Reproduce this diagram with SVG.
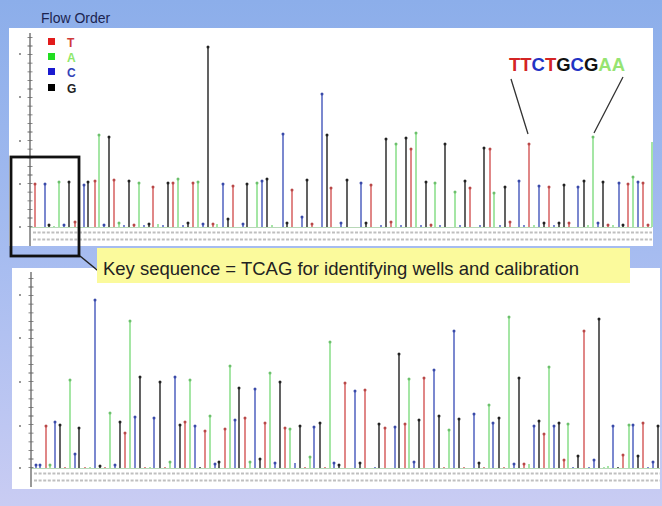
<svg xmlns="http://www.w3.org/2000/svg" width="662" height="506" viewBox="0 0 662 506">
<defs>
<linearGradient id="bg" x1="0" y1="0" x2="0" y2="1">
<stop offset="0" stop-color="#8caeea"/>
<stop offset="0.5" stop-color="#a6bcf0"/>
<stop offset="1" stop-color="#c9ccf3"/>
</linearGradient>
<style>
.bt{stroke:#d96a6a}.ba{stroke:#8fe08f}.bc{stroke:#5b6bc4}.bg{stroke:#3c3c3c}
.bar{fill:none;stroke-width:1.6}
.cap{fill:none;stroke-width:3;stroke-linecap:round}
.ct{stroke:#b84848}.ca{stroke:#6cc06c}.cc{stroke:#3a4aa8}.cg{stroke:#222}
.axis{stroke:#555;stroke-width:1.2;fill:none}
.ticks{stroke:#666;stroke-width:5;stroke-dasharray:0.8 7.8;fill:none}
.lbl{stroke:#8a8a8a;stroke-width:2;stroke-dasharray:3 1.6;opacity:0.55;fill:none}
.base{stroke:#b8d8b8;stroke-width:1;fill:none}
.tl{fill:#777}
.leg{font-family:"Liberation Sans",Arial,sans-serif;font-weight:bold;font-size:12px}
</style>
</defs>
<rect width="662" height="506" fill="url(#bg)"/>
<text x="41" y="23" font-family="Liberation Sans, Arial, sans-serif" font-size="14" fill="#1c2450">Flow Order</text>

<!-- top panel -->
<rect x="9" y="28" width="644" height="218" fill="#ffffff"/>
<!-- bottom panel -->
<rect x="12" y="268" width="648" height="221" fill="#ffffff"/>

<g id="top-chart">
<path class="base" d="M30 227.5H652"/>
<path class="axis" d="M30 33V246"/>
<path class="ticks" d="M30 227V33"/>
<g class="tl"><circle cx="20" cy="54" r="1"/><circle cx="20" cy="97" r="1"/><circle cx="20" cy="141" r="1"/><circle cx="20" cy="184" r="1"/><circle cx="20" cy="227" r="1"/></g>
<path class="lbl" d="M33 232.5H652M33 239.5H652"/>
<path class="bar bt" d="M35 227V184M75 227V222M95 227V181M114 227V180M134 227V225M153 227V187M173 227V183M193 227V183M213 227V224M233 227V186M292 227V190M312 227V224M331 227V188M371 227V185M391 227V222M411 227V149M431 227V225M470 227V188M490 227V149M510 227V222M529 227V144M549 227V187M569 227V223M608 227V225M628 227V184M643 227V183M648 227V225"/>
<path class="cap ct" d="M35 184v0M75 222v0M95 181v0M114 180v0M134 225v0M153 187v0M173 183v0M193 183v0M213 224v0M233 186v0M292 190v0M312 224v0M331 188v0M371 185v0M391 222v0M411 149v0M431 225v0M470 188v0M490 149v0M510 222v0M529 144v0M549 187v0M569 223v0M608 225v0M628 184v0M643 183v0M648 225v0"/>
<path class="bar ba" d="M54 227V226M59 227V182M99 227V135M119 227V223M139 227V183M158 227V224M178 227V179M198 227V182M217 227V224M257 227V183M272 227V225M396 227V144M416 227V133M435 227V183M455 227V192M494 227V193M534 227V225M588 227V225M593 227V137M613 227V225M633 227V177M652 227V142"/>
<path class="cap ca" d="M59 182v0M99 135v0M119 223v0M139 183v0M178 179v0M198 182v0M257 183v0M396 144v0M416 133v0M435 183v0M455 192v0M494 193v0M593 137v0M633 177v0"/>
<path class="bar bc" d="M45 227V184M64 227V225M84 227V185M104 227V225M124 227V225M144 227V225M163 227V225M183 227V225M203 227V224M223 227V184M243 227V224M262 227V181M283 227V134M302 227V217M322 227V94M341 227V223M361 227V183M381 227V225M401 227V225M421 227V225M440 227V225M460 227V225M480 227V225M500 227V225M519 227V181M524 227V225M539 227V186M554 227V225M578 227V187M598 227V223M619 227V183M638 227V182"/>
<path class="cap cc" d="M45 184v0M64 225v0M84 185v0M104 225v0M203 224v0M223 184v0M243 224v0M262 181v0M283 134v0M302 217v0M322 94v0M341 223v0M361 183v0M519 181v0M539 186v0M578 187v0M598 223v0M619 183v0M638 182v0"/>
<path class="bar bg" d="M49 227V225M69 227V182M88 227V182M109 227V137M129 227V181M149 227V224M168 227V183M188 227V223M208 227V47M228 227V219M247 227V184M267 227V179M287 227V223M307 227V180M327 227V135M347 227V180M366 227V223M386 227V139M406 227V138M426 227V182M445 227V144M465 227V181M484 227V148M505 227V187M544 227V223M559 227V223M564 227V185M584 227V181M603 227V182M623 227V225"/>
<path class="cap cg" d="M49 225v0M69 182v0M88 182v0M109 137v0M129 181v0M149 224v0M168 183v0M188 223v0M208 47v0M228 219v0M247 184v0M267 179v0M287 223v0M307 180v0M327 135v0M347 180v0M366 223v0M386 139v0M406 138v0M426 182v0M445 144v0M465 181v0M484 148v0M505 187v0M544 223v0M559 223v0M564 185v0M584 181v0M603 182v0M623 225v0"/>
</g>

<g id="legend">
<rect x="48" y="38" width="7" height="7" fill="#e21b1b"/>
<rect x="48" y="53" width="7" height="7" fill="#22dd22"/>
<rect x="48" y="68" width="7" height="7" fill="#1a1ad0"/>
<rect x="48" y="84" width="7" height="7" fill="#000"/>
<text class="leg" x="67" y="47" fill="#d03a3a">T</text>
<text class="leg" x="67" y="62" fill="#8ee86a">A</text>
<text class="leg" x="67" y="77" fill="#3443b8">C</text>
<text class="leg" x="67" y="93" fill="#222">G</text>
</g>

<g id="bottom-chart">
<path class="base" d="M31 468.5H660"/>
<path class="axis" d="M31 272V487"/>
<path class="ticks" d="M31 468V274"/>
<g class="tl"><circle cx="20" cy="295" r="1"/><circle cx="20" cy="338" r="1"/><circle cx="20" cy="382" r="1"/><circle cx="20" cy="426" r="1"/><circle cx="20" cy="468" r="1"/></g>
<path class="lbl" d="M34 473.5H660M34 480.5H660"/>
<path class="bar bt" d="M46 468V426M65 468V467M85 468V467M105 468V467M125 468V433M145 468V467M165 468V467M185 468V422M205 468V431M225 468V429M245 468V418M265 468V423M285 468V428M305 468V467M325 468V467M345 468V383M365 468V390M385 468V428M405 468V424M424 468V378M444 468V467M464 468V467M484 468V467M504 468V467M524 468V464M544 468V434M564 468V460M584 468V331M623 468V455M643 468V423"/>
<path class="cap ct" d="M46 426v0M125 433v0M185 422v0M205 431v0M225 429v0M245 418v0M265 423v0M285 428v0M345 383v0M365 390v0M385 428v0M405 424v0M424 378v0M524 464v0M544 434v0M564 460v0M584 331v0M623 455v0M643 423v0"/>
<path class="bar ba" d="M50 468V465M70 468V380M90 468V467M110 468V413M130 468V321M150 468V467M170 468V462M190 468V380M210 468V416M230 468V366M250 468V462M270 468V373M290 468V429M310 468V457M330 468V342M409 468V379M449 468V430M489 468V405M509 468V317M529 468V464M549 468V367M568 468V424M604 468V467M608 468V466M629 468V425"/>
<path class="cap ca" d="M50 465v0M70 380v0M110 413v0M130 321v0M170 462v0M190 380v0M210 416v0M230 366v0M250 462v0M270 373v0M290 429v0M310 457v0M330 342v0M409 379v0M449 430v0M489 405v0M509 317v0M549 367v0M568 424v0M629 425v0"/>
<path class="bar bc" d="M36 468V465M40 468V465M55 468V422M75 468V454M95 468V300M115 468V465M135 468V417M154 468V418M175 468V377M195 468V426M215 468V464M235 468V420M255 468V389M275 468V463M295 468V463M314 468V427M334 468V463M355 468V391M375 468V467M395 468V427M414 468V462M434 468V370M454 468V331M474 468V414M493 468V423M514 468V464M534 468V426M554 468V426M573 468V467M589 468V467M594 468V460M613 468V426M633 468V425M648 468V467M653 468V462"/>
<path class="cap cc" d="M36 465v0M40 465v0M55 422v0M75 454v0M95 300v0M115 465v0M135 417v0M154 418v0M175 377v0M195 426v0M215 464v0M235 420v0M255 389v0M275 463v0M314 427v0M334 463v0M355 391v0M395 427v0M414 462v0M434 370v0M454 331v0M474 414v0M493 423v0M514 464v0M534 426v0M554 426v0M594 460v0M613 426v0M633 425v0M653 462v0"/>
<path class="bar bg" d="M60 468V425M79 468V428M100 468V466M120 468V422M140 468V377M160 468V382M180 468V425M200 468V467M219 468V462M239 468V388M260 468V459M280 468V382M300 468V426M320 468V423M339 468V465M360 468V463M379 468V424M399 468V354M419 468V420M439 468V416M459 468V419M479 468V463M499 468V418M519 468V378M539 468V421M559 468V423M578 468V456M599 468V319M618 468V467M638 468V456M658 468V426"/>
<path class="cap cg" d="M60 425v0M79 428v0M100 466v0M120 422v0M140 377v0M160 382v0M180 425v0M219 462v0M239 388v0M260 459v0M280 382v0M300 426v0M320 423v0M339 465v0M360 463v0M379 424v0M399 354v0M419 420v0M439 416v0M459 419v0M479 463v0M499 418v0M519 378v0M539 421v0M559 423v0M578 456v0M599 319v0M638 456v0M658 426v0"/>
</g>

<g id="connectors">
<path d="M511 79L528 134M623 77L594 133" stroke="#333" stroke-width="1.3" fill="none"/>
<path d="M80 256L102 274" stroke="#222" stroke-width="1.5" fill="none"/>
</g>

<g id="key-box">
<rect x="11" y="157" width="68" height="99" fill="none" stroke="#111" stroke-width="2.8"/>
</g>

<g id="callout">
<rect x="97" y="248" width="533" height="35" fill="#fbfa9c"/>
<text x="103" y="275" font-family="Liberation Sans, Arial, sans-serif" font-size="18.5" fill="#222" textLength="476" lengthAdjust="spacingAndGlyphs">Key sequence = TCAG for identifying wells and calibration</text>
</g>

<g id="sequence">
<text x="509" y="71" font-family="Liberation Sans, Arial, sans-serif" font-weight="bold" font-size="19" textLength="116" lengthAdjust="spacingAndGlyphs"><tspan fill="#d42424">TT</tspan><tspan fill="#2233c4">C</tspan><tspan fill="#d42424">T</tspan><tspan fill="#111">G</tspan><tspan fill="#2233c4">C</tspan><tspan fill="#111">G</tspan><tspan fill="#96e472">AA</tspan></text>
</g>
</svg>
